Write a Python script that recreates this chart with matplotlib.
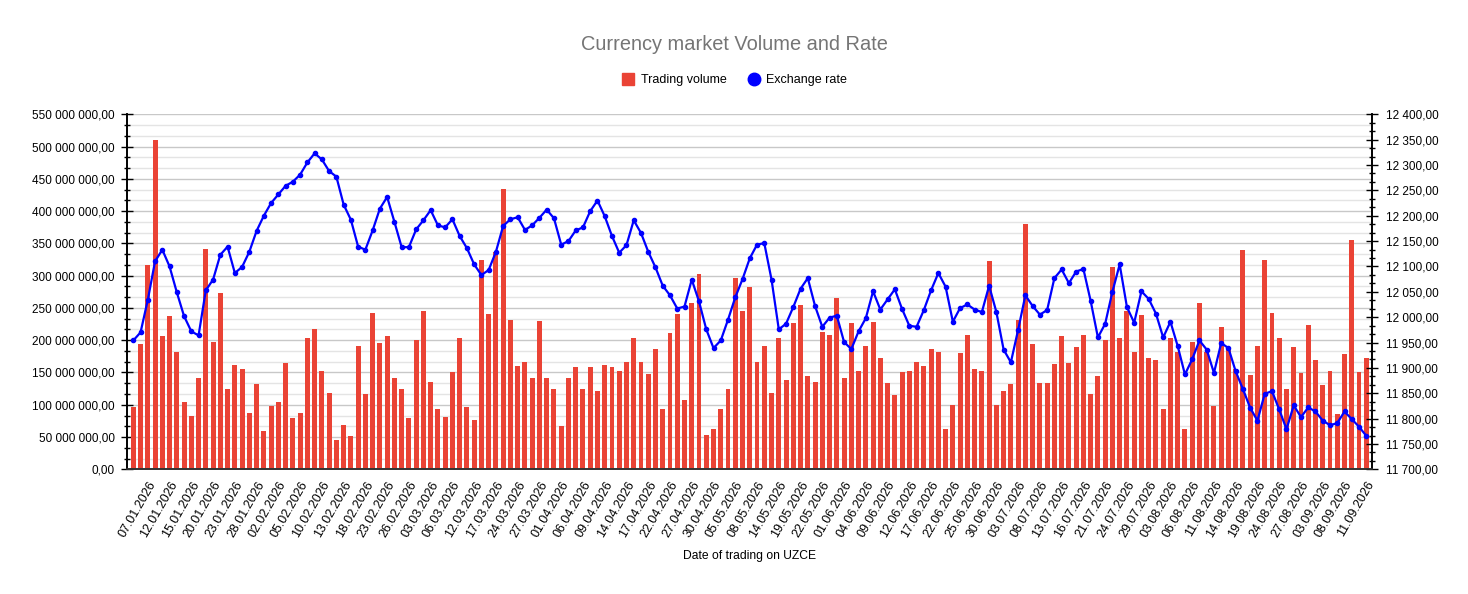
import matplotlib
matplotlib.use("Agg")
import matplotlib.pyplot as plt
from matplotlib.lines import Line2D
from matplotlib.ticker import FuncFormatter, MultipleLocator, AutoMinorLocator
import numpy as np
import pandas as pd

plt.rcParams['font.family'] = ['Liberation Sans', 'DejaVu Sans']

# trading days on UZCE (weekdays minus exchange holidays)
holidays = ['2026-03-09', '2026-03-20', '2026-03-23', '2026-05-11',
            '2026-05-26', '2026-05-27', '2026-05-28', '2026-08-31', '2026-09-01']
dates = pd.bdate_range('2026-01-05', '2026-09-11').drop(pd.to_datetime(holidays))

# trading volume, millions
volume_m = [96, 194, 316, 510, 206, 237, 181, 104, 83, 142,
            341, 198, 273, 124, 161, 155, 87, 132, 59, 98,
            105, 164, 79, 88, 204, 217, 152, 119, 45, 68,
            51, 191, 116, 242, 195, 206, 141, 125, 79, 201,
            246, 135, 93, 81, 150, 204, 96, 76, 325, 240,
            337, 435, 231, 160, 167, 142, 229, 142, 124, 67,
            142, 158, 124, 158, 121, 161, 158, 152, 167, 203,
            166, 147, 186, 93, 211, 240, 107, 257, 303, 53,
            62, 93, 125, 297, 246, 283, 166, 191, 119, 204,
            138, 226, 254, 144, 135, 212, 208, 265, 142, 226,
            152, 191, 228, 172, 133, 115, 150, 152, 166, 160,
            186, 181, 62, 99, 180, 208, 156, 152, 322, 99,
            122, 132, 231, 380, 194, 133, 133, 163, 206, 164,
            189, 208, 116, 144, 200, 314, 203, 246, 181, 239,
            173, 170, 93, 203, 181, 62, 198, 257, 181, 98,
            221, 187, 155, 339, 146, 191, 324, 242, 204, 124,
            189, 149, 223, 169, 130, 152, 85, 178, 356, 150,
            172]

# exchange rate
rate = [11954, 11970, 12034, 12110, 12133, 12100, 12049, 12002, 11972, 11964,
        12053, 12074, 12123, 12139, 12087, 12099, 12129, 12170, 12200, 12225,
        12242, 12259, 12267, 12281, 12305, 12323, 12311, 12288, 12277, 12222,
        12192, 12139, 12133, 12171, 12214, 12237, 12188, 12138, 12138, 12173,
        12191, 12211, 12181, 12177, 12193, 12160, 12136, 12104, 12083, 12093,
        12129, 12180, 12193, 12197, 12172, 12181, 12196, 12212, 12195, 12143,
        12150, 12171, 12177, 12209, 12230, 12199, 12160, 12127, 12142, 12191,
        12166, 12129, 12098, 12062, 12043, 12017, 12021, 12074, 12031, 11976,
        11939, 11954, 11995, 12039, 12075, 12116, 12143, 12146, 12074, 11976,
        11987, 12020, 12056, 12077, 12022, 11981, 11999, 12003, 11951, 11937,
        11972, 11998, 12051, 12015, 12035, 12055, 12016, 11983, 11981, 12014,
        12053, 12087, 12060, 11991, 12018, 12025, 12015, 12010, 12062, 12010,
        11936, 11911, 11975, 12043, 12022, 12005, 12014, 12077, 12094, 12067,
        12090, 12095, 12032, 11960, 11987, 12050, 12104, 12020, 11989, 12051,
        12036, 12007, 11960, 11991, 11943, 11887, 11917, 11954, 11936, 11890,
        11949, 11939, 11893, 11858, 11821, 11796, 11849, 11854, 11818, 11779,
        11826, 11803, 11822, 11814, 11796, 11787, 11791, 11814, 11799, 11784,
        11766]

assert len(dates) == len(volume_m) == len(rate)
volume = np.array(volume_m) * 1e6
labels = [d.strftime('%d.%m.%Y') for d in dates]
x = np.arange(len(dates))


def ru_fmt(v, pos=None):
    return f"{v:,.2f}".replace(',', ' ').replace('.', ',')


fig = plt.figure(figsize=(14.68, 5.94), dpi=100)
ax = fig.add_axes([0.0867, 0.2099, 0.8477, 0.5977])
ax2 = ax.twinx()

ax.bar(x, volume, width=0.68, color='#ea4335', zorder=2)
ax2.plot(x, rate, color='#0000ff', lw=1.6, marker='o', ms=3, zorder=3)

ax.set_xlim(-0.83, len(x) - 1 + 0.75)
ax.set_ylim(0, 550e6)
ax2.set_ylim(11700, 12400)

ax.yaxis.set_major_locator(MultipleLocator(50e6))
ax.yaxis.set_minor_locator(AutoMinorLocator(3))
ax2.yaxis.set_major_locator(MultipleLocator(50))
ax2.yaxis.set_minor_locator(AutoMinorLocator(3))
ax.yaxis.set_major_formatter(FuncFormatter(ru_fmt))
ax2.yaxis.set_major_formatter(FuncFormatter(ru_fmt))

ax.grid(which='major', axis='y', color='#c8c8c8', lw=1, zorder=0)
ax.grid(which='minor', axis='y', color='#e4e4e4', lw=1, zorder=0)
ax.set_axisbelow(True)

ax.set_xticks(x[2::3])
ax.set_xticklabels(labels[2::3], rotation=60, ha='right', rotation_mode='anchor', fontsize=9)
ax.tick_params(axis='x', length=0, pad=7)
ax.tick_params(axis='y', which='major', direction='inout', length=9, width=1, labelsize=8.5, pad=4.5)
ax.tick_params(axis='y', which='minor', direction='inout', length=5, width=1)
ax2.tick_params(axis='y', which='major', direction='inout', length=9, width=1, labelsize=8.5, pad=6)
ax2.tick_params(axis='y', which='minor', direction='inout', length=5, width=1)

for a in (ax, ax2):
    a.spines['top'].set_visible(False)
    a.spines['left'].set_linewidth(1.2)
    a.spines['right'].set_linewidth(1.2)
    a.spines['bottom'].set_linewidth(1.2)
    a.spines['bottom'].set_color('#333333')

fig.text(0.5, 0.925, 'Currency market Volume and Rate', ha='center', va='center',
         fontsize=14.4, color='#757575')
fig.text(0.5105, 0.064, 'Date of trading on UZCE', ha='center', va='center', fontsize=8.7)

handles = [Line2D([], [], ls='none', marker='s', ms=9, color='#ea4335'),
           Line2D([], [], ls='none', marker='o', ms=9, color='#0000ff')]
fig.legend(handles, ['Trading volume', 'Exchange rate'], loc='center',
           bbox_to_anchor=(0.5, 0.865), ncol=2, frameon=False, fontsize=9,
           handletextpad=0.4, columnspacing=1.6, handlelength=1.2)

fig.savefig('out.png', dpi=100)
